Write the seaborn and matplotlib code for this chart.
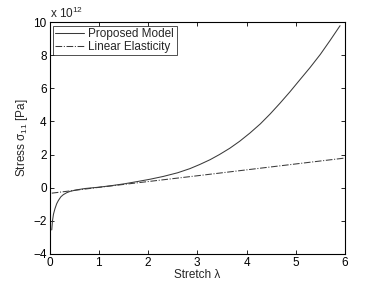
import numpy as np
import pandas as pd
import matplotlib
matplotlib.use('Agg')
import matplotlib.pyplot as plt
import seaborn as sns

# values (stress in units of 1e12 Pa)
lam_model = [0.045, 0.06, 0.08, 0.11, 0.145, 0.18, 0.23, 0.28, 0.35, 0.42,
             0.55, 0.72, 1.0, 1.25, 1.53, 1.8, 2.04, 2.31, 2.6, 2.85, 3.05,
             3.26, 3.45, 3.66, 3.86, 4.07, 4.28, 4.48, 4.68, 4.88, 5.08,
             5.29, 5.5, 5.7, 5.9]
stress_model = [-2.55, -2.0, -1.6, -1.27, -0.97, -0.77, -0.55, -0.42, -0.3,
                -0.22, -0.13, -0.05, 0.03, 0.12, 0.24, 0.38, 0.51, 0.68, 0.9,
                1.15, 1.4, 1.69, 2.0, 2.38, 2.8, 3.3, 3.85, 4.45, 5.1, 5.78,
                6.5, 7.25, 8.05, 8.9, 9.78]
lam_linear = [0.045, 1.0, 3.0, 6.0]
stress_linear = [-0.33, 0.02, 0.72, 1.79]

xticks = [0, 1, 2, 3, 4, 5, 6]
yticks = [-4, -2, 0, 2, 4, 6, 8, 10]

df_model = pd.DataFrame({'lam': lam_model, 'stress': stress_model})
df_lin = pd.DataFrame({'lam': lam_linear, 'stress': stress_linear})

sns.set_style('ticks')
plt.rcParams['font.family'] = ['Liberation Sans', 'DejaVu Sans']
plt.rcParams['mathtext.fontset'] = 'custom'
plt.rcParams['mathtext.rm'] = 'Liberation Sans'
plt.rcParams['mathtext.it'] = 'Liberation Sans:italic'
plt.rcParams['xtick.direction'] = 'in'
plt.rcParams['ytick.direction'] = 'in'

fig = plt.figure(figsize=(3.81, 2.86), dpi=100)
ax = fig.add_axes([0.130, 0.112, 0.7755, 0.811])

sns.lineplot(data=df_model, x='lam', y='stress', ax=ax, color='#3a3a3a',
             lw=0.75, label='Proposed Model', sort=True)
sns.lineplot(data=df_lin, x='lam', y='stress', ax=ax, color='#3a3a3a',
             lw=0.75, linestyle='-.', label='Linear Elasticity', sort=True)

ax.set_xlim(0, 6)
ax.set_ylim(-4, 10)
ax.set_xticks(xticks)
ax.set_yticks(yticks)
ax.tick_params(top=True, right=True, labelsize=8.5, length=3, width=0.6,
               pad=2, colors='black')
for s in ax.spines.values():
    s.set_linewidth(0.8)
    s.set_color('black')

ax.set_xlabel('Stretch λ', fontsize=8.5, labelpad=0)
ax.set_ylabel('Stress σ$_{11}$ [Pa]', fontsize=8.5, labelpad=2)
ax.text(0.0, 1.005, r'x 10$^{12}$', transform=ax.transAxes, fontsize=8.5,
        ha='left', va='bottom')

leg = ax.legend(loc='upper left', fontsize=8.5, frameon=True, fancybox=False,
                borderaxespad=0.3, handlelength=2.4, borderpad=0.2,
                labelspacing=0.1, handletextpad=0.4)
leg.get_frame().set_edgecolor('black')
leg.get_frame().set_linewidth(0.6)

fig.savefig('out.png', dpi=100)
